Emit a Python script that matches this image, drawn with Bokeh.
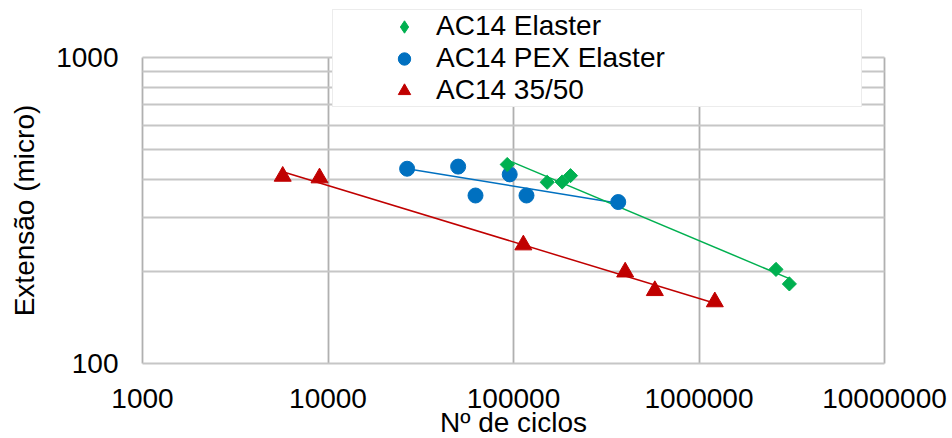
import numpy as np
from bokeh.plotting import figure
from bokeh.models import (Range1d, FixedTicker, NumeralTickFormatter, Legend,
                          LegendItem)
from bokeh.embed import file_html
from bokeh.resources import INLINE

# ---- data ----
elaster_x = [92500, 151900, 183000, 202900, 2600000, 3070000]
elaster_y = [447, 391, 392, 411, 203, 182]

pex_x = [26700, 50300, 62400, 95400, 117500, 367000]
pex_y = [433, 440, 354, 415, 354, 337]

ac3550_x = [5700, 9000, 113000, 400000, 578000, 1217000]
ac3550_y = [409, 404, 244, 199, 173, 159]

series_names = ["AC14 Elaster", "AC14 PEX Elaster", "AC14 35/50"]
x_ticks = [1000, 10000, 100000, 1000000, 10000000]
y_ticks = [100, 1000]
y_minor = [200, 300, 400, 500, 600, 700, 800, 900]
x_bounds = (1000, 10000000)
y_bounds = (100, 1000)
x_title = "Nº de ciclos"
y_title = "Extensão (micro)"

GREEN = "#00b050"
BLUE = "#0070c0"
RED = "#c00000"
VGRID = "#b0b0b0"
HGRID = "#c6c6c6"
FONT = "Liberation Sans"
FS = "28px"

W, H = 952, 438
# plot area in pixels: x 1000..1e7 -> 142..884 ; y 100..1000 -> 363..57
PL, PR, PT, PB = 142, 884, 57, 363
dec_x = np.log10(x_bounds[1] / x_bounds[0])
dec_y = np.log10(y_bounds[1] / y_bounds[0])
px_x = (PR - PL) / dec_x
px_y = (PB - PT) / dec_y
x_lo = x_bounds[0] * 10 ** (-PL / px_x)
x_hi = x_bounds[1] * 10 ** ((W - PR) / px_x)
y_lo = y_bounds[0] * 10 ** (-(H - PB) / px_y)
y_hi = y_bounds[1] * 10 ** (PT / px_y)

p = figure(width=W, height=H, x_axis_type="log", y_axis_type="log",
           x_range=Range1d(x_lo, x_hi), y_range=Range1d(y_lo, y_hi),
           output_backend="svg", toolbar_location=None, min_border=0)
p.outline_line_color = None
p.background_fill_color = "white"
p.border_fill_color = "white"

p.xaxis.ticker = FixedTicker(ticks=x_ticks)
p.yaxis.ticker = FixedTicker(ticks=y_ticks, minor_ticks=y_minor)
p.xgrid.ticker = FixedTicker(ticks=x_ticks)
p.ygrid.ticker = FixedTicker(ticks=y_ticks, minor_ticks=y_minor)
for ax in (p.xaxis, p.yaxis):
    ax.formatter = NumeralTickFormatter(format="0")
    ax.axis_line_color = None
    ax.major_tick_line_color = None
    ax.minor_tick_line_color = None
    ax.major_tick_out = 0
    ax.major_tick_in = 0
    ax.minor_tick_out = 0
    ax.minor_tick_in = 0
    ax.major_label_text_font = FONT
    ax.major_label_text_font_size = FS
    ax.major_label_text_color = "black"
    ax.axis_label_text_font = FONT
    ax.axis_label_text_font_size = FS
    ax.axis_label_text_font_style = "normal"
    ax.axis_label_text_color = "black"

p.xaxis.fixed_location = y_bounds[0]
p.xaxis.bounds = x_bounds
p.xaxis.major_label_standoff = 25
p.xaxis.axis_label = x_title
p.xaxis.axis_label_standoff = -4

p.yaxis.fixed_location = x_bounds[0]
p.yaxis.bounds = y_bounds
p.yaxis.major_label_standoff = 24
p.yaxis.axis_label = y_title
p.yaxis.axis_label_standoff = 13

p.xgrid.grid_line_color = VGRID
p.xgrid.grid_line_width = 1.8
p.xgrid.cross_bounds = y_bounds
p.ygrid.grid_line_color = HGRID
p.ygrid.grid_line_width = 1.8
p.ygrid.minor_grid_line_color = HGRID
p.ygrid.minor_grid_line_width = 1.8
p.ygrid.cross_bounds = x_bounds


def power_fit(xs, ys):
    lx, ly = np.log10(xs), np.log10(ys)
    b, a = np.polyfit(lx, ly, 1)
    x0, x1 = min(xs), max(xs)
    return [x0, x1], [10 ** (a + b * np.log10(x0)), 10 ** (a + b * np.log10(x1))]


for xs, ys, c in ((ac3550_x, ac3550_y, RED), (pex_x, pex_y, BLUE),
                  (elaster_x, elaster_y, GREEN)):
    tx, ty = power_fit(xs, ys)
    p.line(tx, ty, line_color=c, line_width=1.5)

r_red = p.scatter(ac3550_x, ac3550_y, marker="triangle", size=17,
                  fill_color=RED, line_color=RED)
r_blue = p.scatter(pex_x, pex_y, marker="circle", size=15,
                   fill_color=BLUE, line_color=BLUE)
r_green = p.scatter(elaster_x, elaster_y, marker="square", size=10,
                    angle=np.pi / 4, fill_color=GREEN, line_color=GREEN)
# hidden twin used only for the legend swatch (legend draws markers unrotated)
r_green_leg = p.scatter(elaster_x, elaster_y, marker="diamond", size=14,
                        fill_color=GREEN, line_color=GREEN, visible=False)

legend = Legend(items=[
    LegendItem(label=series_names[0], renderers=[r_green_leg]),
    LegendItem(label=series_names[1], renderers=[r_blue]),
    LegendItem(label=series_names[2], renderers=[r_red]),
], location=(332, H - 107), click_policy="none",
    padding=dict(left=51, right=0, top=0, bottom=0), spacing=0,
    glyph_width=40, glyph_height=31, label_height=31,
    label_standoff=12, label_width=425,
    label_text_font=FONT, label_text_font_size=FS, label_text_color="black",
    border_line_color="#d9d9d9", border_line_width=1.5,
    background_fill_color="white", background_fill_alpha=1.0)
p.add_layout(legend)

open("out.html", "w").write(file_html(p, INLINE))
